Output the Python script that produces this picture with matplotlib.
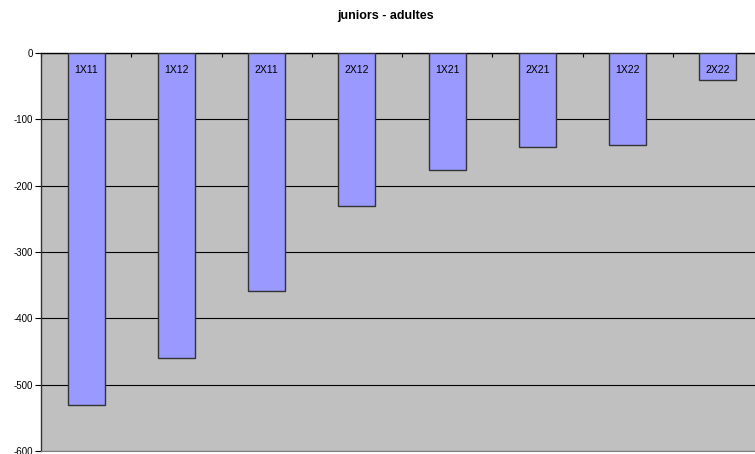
import matplotlib.pyplot as plt
import numpy as np

# data
categories = ['1X11', '1X12', '2X11', '2X12', '1X21', '2X21', '1X22', '2X22']
values = [-530, -460, -359, -230, -176, -142, -139, -41]
yticks = [0, -100, -200, -300, -400, -500, -600]

plt.rcParams['font.family'] = ['Liberation Sans', 'DejaVu Sans']

fig = plt.figure(figsize=(7.55, 4.54), dpi=100)
# plot area runs a bit past the right edge of the figure
ax = fig.add_axes([41 / 755, 1 - 451 / 454, 722 / 755, 398 / 454])
ax.set_facecolor('#C0C0C0')

x = np.arange(len(categories))
ax.bar(x, values, width=0.41, color='#9999FF', edgecolor='#333333', linewidth=1.0, zorder=3)

for xi, name in zip(x, categories):
    ax.text(xi, -25, name, ha='center', va='center', fontsize=7.5, zorder=4)

ax.set_xlim(-0.5, len(categories) - 0.5)
ax.set_ylim(-600, 0)
ax.set_yticks(yticks)
ax.set_yticklabels([str(v) for v in yticks], fontsize=7)
ax.yaxis.grid(True, color='black', linewidth=0.8, zorder=1)
ax.tick_params(axis='y', length=4, width=0.8, direction='out', pad=2)

# category ticks sit on the zero line at the top, between bars
ax.xaxis.tick_top()
ax.set_xticks(np.arange(len(categories) + 1) - 0.5)
ax.set_xticklabels([])
ax.tick_params(axis='x', length=3, width=0.8, direction='in')

ax.spines['right'].set_visible(False)
ax.spines['bottom'].set_color('#808080')
ax.spines['top'].set_linewidth(1.0)
ax.spines['left'].set_linewidth(1.0)
ax.spines['left'].set_color('#333333')

fig.text(386 / 755, 1 - 16 / 454, 'juniors - adultes', ha='center', va='center',
         fontsize=9, fontweight='bold')

fig.savefig('out.png', dpi=100)
